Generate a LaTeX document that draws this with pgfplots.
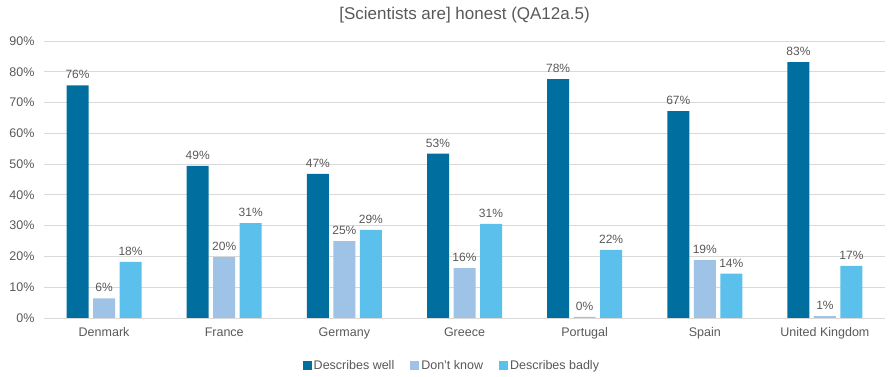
\documentclass[border=0pt]{standalone}
\usepackage{pgfplots}
\pgfplotsset{compat=1.18}
\usepackage{fontspec}
\setmainfont{Liberation Sans}

\definecolor{cWell}{RGB}{0,111,160}
\definecolor{cDK}{RGB}{158,195,230}
\definecolor{cBad}{RGB}{91,192,235}
\definecolor{cText}{RGB}{89,89,89}
\definecolor{cGrid}{RGB}{217,217,217}

\pgfplotstableread{
x well dk bad
0 75.6 6.4 18.2
1 49.4 19.8 30.8
2 46.8 25.0 28.6
3 53.4 16.2 30.6
4 77.6 0.4 22.1
5 67.2 18.8 14.4
6 83.1 0.6 16.9
}\honest

\begin{document}
\begin{tikzpicture}
\begin{axis}[
  scale only axis,
  width=841bp, height=277bp,
  ybar=4.5bp, bar width=22bp,
  xmin=-0.5, xmax=6.5,
  ymin=0, ymax=90,
  ytick={0,10,...,90},
  yticklabel={\pgfmathprintnumber{\tick}\%},
  /pgf/number format/assume math mode=true,
  xtick=data,
  xticklabels={Denmark,France,Germany,Greece,Portugal,Spain,United Kingdom},
  major tick length=0pt,
  axis line style={draw=none},
  ymajorgrids, grid style={cGrid, line width=0.8bp},
  tick label style={font=\fontsize{12.5bp}{14bp}\selectfont, text=cText},
  yticklabel style={xshift=-6bp},
  xticklabel style={yshift=-6bp},
  nodes near coords={\pgfmathprintnumber[fixed,precision=0]{\pgfplotspointmeta}\%},
  nodes near coords style={font=\fontsize{12bp}{14bp}\selectfont, text=cText, yshift=3bp},
  legend style={at={(0.485,-0.173)}, anchor=center, draw=none, legend columns=-1,
    font=\fontsize{12.5bp}{14bp}\selectfont, text=cText,
    /tikz/every even column/.append style={column sep=14bp}},
  legend image code/.code={\fill[#1] (0bp,-4.5bp) rectangle (9bp,4.5bp);},
  title={[Scientists are] honest (QA12a.5)},
  title style={font=\fontsize{17bp}{20bp}\selectfont, text=cText, at={(0.5,1)}, anchor=center, yshift=20bp},
]
\addplot[fill=cWell, draw=none] table[x=x, y=well] {\honest};
\addplot[fill=cDK, draw=none] table[x=x, y=dk] {\honest};
\addplot[fill=cBad, draw=none] table[x=x, y=bad] {\honest};
\legend{Describes well, Don't know, Describes badly}
\draw[cGrid, line width=0.8bp] (rel axis cs:0,0) -- (rel axis cs:1,0);
\end{axis}
\pgfresetboundingbox
\useasboundingbox ([shift={(-44bp,-59bp)}]current axis.south west) rectangle ([shift={(4bp,41bp)}]current axis.north east);
\end{tikzpicture}
\end{document}
